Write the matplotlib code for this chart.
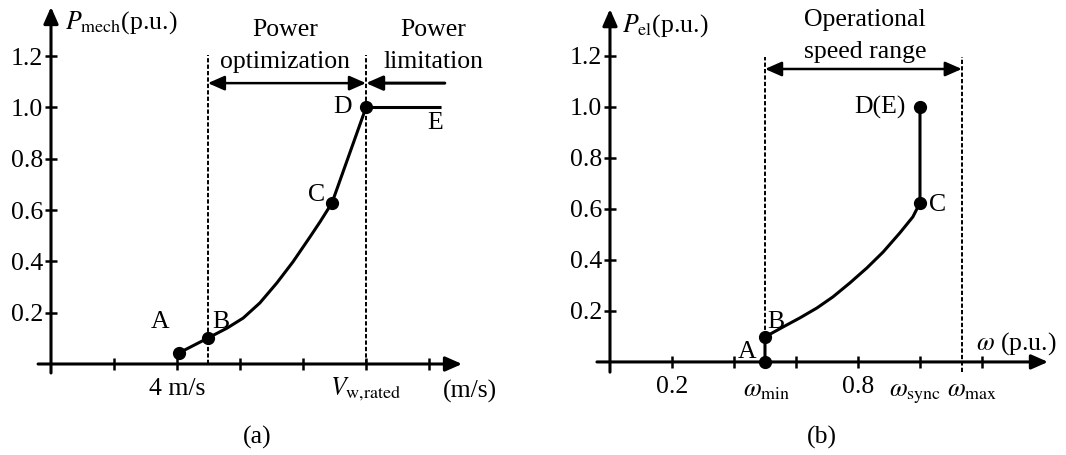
import numpy as np
import matplotlib
matplotlib.use("Agg")
import matplotlib.pyplot as plt

plt.rcParams['font.family'] = ['Liberation Serif', 'DejaVu Serif']
plt.rcParams['mathtext.fontset'] = 'stix'

# (a) mechanical power vs wind speed
wind_speed = [4.06, 4.98, 5.59, 6.10, 6.63, 7.17, 7.68, 8.22, 8.54, 8.92, 10.0, 12.35]
p_mech = [0.043, 0.101, 0.140, 0.179, 0.238, 0.316, 0.398, 0.495, 0.554, 0.628, 1.0, 1.0]
dots_a = [0, 1, 9, 10]          # A, B, C, D
labels_a = ['A', 'B', 'C', 'D', 'E']
label_pos_a = [(3.46, 0.164), (5.40, 0.164), (8.44, 0.66), (9.27, 1.0), (12.19, 0.94)]
v_ticks = [2, 4, 6, 8, 10, 12]
v_min_opt, v_rated, v_end = 4.98, 10.0, 12.5

# (b) electrical power vs rotor speed
omega = [0.5, 0.5, 0.558, 0.613, 0.668, 0.719, 0.774, 0.829, 0.881, 0.935, 0.977, 1.0, 1.0]
p_el = [0.0, 0.098, 0.137, 0.173, 0.212, 0.255, 0.310, 0.369, 0.431, 0.506, 0.569, 0.624, 1.0]
dots_b = [0, 1, 11, 12]         # A, B, C, D(E)
labels_b = ['A', 'B', 'C', 'D(E)']
label_pos_b = [(0.442, 0.039), (0.535, 0.157), (1.058, 0.616), (0.871, 1.0)]
w_ticks = [0.2, 0.4, 0.6, 0.8, 1.0, 1.2]
w_min, w_sync, w_max = 0.5, 1.0, 1.135

p_ticks = [0.2, 0.4, 0.6, 0.8, 1.0, 1.2]

FS = 18.5
LW = 2.2

fig = plt.figure(figsize=(10.66, 4.55), dpi=100)
ax1 = fig.add_axes([0, 0, 520 / 1066, 1])
ax2 = fig.add_axes([530 / 1066, 0, 536 / 1066, 1])
ax1.set_xlim(-1.619, 14.889)
ax1.set_ylim(-0.3548, 1.4191)
ax2.set_xlim(-0.258, 1.471)
ax2.set_ylim(-0.365, 1.4196)


def arrow(ax, start, tip, style='-|>'):
    ax.annotate('', xy=tip, xytext=start,
                arrowprops=dict(arrowstyle=style + ',head_length=0.5,head_width=0.22',
                                lw=LW if style == '-|>' else 1.8, color='k',
                                mutation_scale=20, shrinkA=0, shrinkB=0))


for ax in (ax1, ax2):
    ax.patch.set_alpha(0)
    for s in ax.spines.values():
        s.set_visible(False)
    ax.spines['left'].set_position(('data', 0))
    ax.spines['bottom'].set_position(('data', 0))
    ax.set_yticks(p_ticks)
    ax.set_yticklabels(['%.1f' % p for p in p_ticks], fontsize=FS)
    ax.tick_params(direction='inout', length=8, width=1.8, pad=1.5)
    ax.tick_params(axis='x', labelbottom=False)

# ---------- panel (a)
arrow(ax1, (-0.41, 0), (13.05, 0))
arrow(ax1, (0, -0.035), (0, 1.392))
ax1.set_xticks(v_ticks)
for xv in (v_min_opt, v_rated):
    ax1.plot([xv, xv], [0, 1.205], color='k', lw=1.4, ls=(0, (2.2, 1.1)))
arrow(ax1, (v_min_opt, 1.095), (v_rated, 1.095), style='<|-|>')
arrow(ax1, (v_end, 1.095), (v_rated, 1.095))
ax1.plot(wind_speed, p_mech, color='k', lw=LW)
ax1.plot([wind_speed[i] for i in dots_a], [p_mech[i] for i in dots_a], 'o',
         color='k', ms=8.5)
for lab, (x, y) in zip(labels_a, label_pos_a):
    ax1.text(x, y, lab, fontsize=FS, ha='center', va='center')
ax1.text(7.43, 1.302, 'Power', fontsize=FS, ha='center', va='center')
ax1.text(7.43, 1.177, 'optimization', fontsize=FS, ha='center', va='center')
ax1.text(12.13, 1.302, 'Power', fontsize=FS, ha='center', va='center')
ax1.text(12.13, 1.177, 'limitation', fontsize=FS, ha='center', va='center')
ax1.text(0.45, 1.306, r'$P_{\mathrm{mech}}$(p.u.)', fontsize=FS, ha='left', va='baseline')
ax1.text(4, -0.121, '4 m/s', fontsize=FS, ha='center', va='baseline')
ax1.text(v_rated, -0.121, r'$V_{\mathrm{w{,}rated}}$', fontsize=FS, ha='center', va='baseline')
ax1.text(13.3, -0.129, '(m/s)', fontsize=FS, ha='center', va='baseline')

# ---------- panel (b)
arrow(ax2, (-0.042, 0), (1.413, 0))
arrow(ax2, (0, -0.04), (0, 1.384))
ax2.set_xticks(w_ticks)
ax2.plot([w_min, w_min], [0, 1.196], color='k', lw=1.4, ls=(0, (2.2, 1.1)))
ax2.plot([w_max, w_max], [-0.04, 1.196], color='k', lw=1.4, ls=(0, (2.2, 1.1)))
arrow(ax2, (w_min, 1.149), (w_max, 1.149), style='<|-|>')
ax2.plot(omega, p_el, color='k', lw=LW)
ax2.plot([omega[i] for i in dots_b], [p_el[i] for i in dots_b], 'o', color='k', ms=8.5,
         clip_on=False)
for lab, (x, y) in zip(labels_b, label_pos_b):
    ax2.text(x, y, lab, fontsize=FS, ha='center', va='center')
ax2.text(0.823, 1.341, 'Operational', fontsize=FS, ha='center', va='center')
ax2.text(0.823, 1.216, 'speed range', fontsize=FS, ha='center', va='center')
ax2.text(0.04, 1.294, r'$P_{\mathrm{el}}$(p.u.)', fontsize=FS, ha='left', va='baseline')
ax2.text(1.18, 0.047, r'$\omega$ (p.u.)', fontsize=FS, ha='left', va='baseline')
ax2.text(0.2, -0.122, '0.2', fontsize=FS, ha='center', va='baseline')
ax2.text(0.8, -0.122, '0.8', fontsize=FS, ha='center', va='baseline')
ax2.text(0.506, -0.137, r'$\omega_{\mathrm{min}}$', fontsize=FS, ha='center', va='baseline')
ax2.text(0.984, -0.137, r'$\omega_{\mathrm{sync}}$', fontsize=FS, ha='center', va='baseline')
ax2.text(1.168, -0.137, r'$\omega_{\mathrm{max}}$', fontsize=FS, ha='center', va='baseline')

fig.text(257 / 1066, 1 - 437 / 455, '(a)', fontsize=FS, ha='center', va='center')
fig.text(822 / 1066, 1 - 437 / 455, '(b)', fontsize=FS, ha='center', va='center')

fig.savefig('out.png', dpi=100)
